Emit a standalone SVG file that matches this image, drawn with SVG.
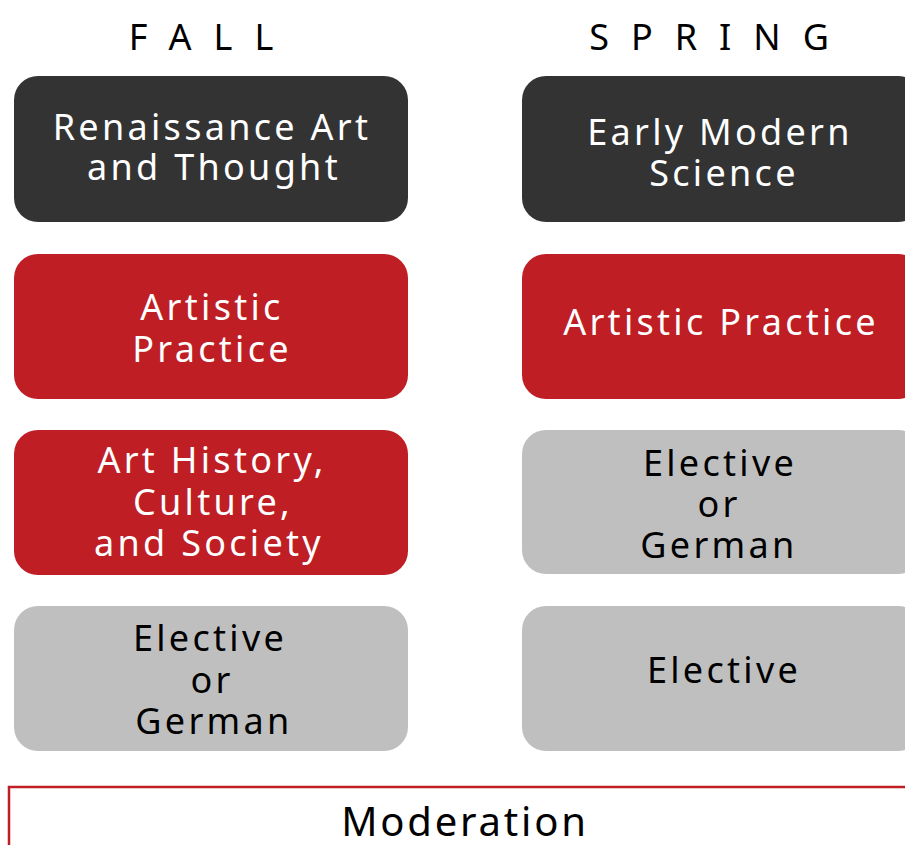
<svg xmlns="http://www.w3.org/2000/svg" width="905" height="845" viewBox="0 0 905 845">
<style>
text{font-family:"Noto Sans","Open Sans","Liberation Sans",sans-serif;font-size:36px;text-anchor:middle;letter-spacing:3.3px}
.w{fill:#ffffff}.k{fill:#000000}
.head{letter-spacing:22px;font-size:36px}
.dark{fill:#333333}.red{fill:#BE1E24}.gray{fill:#BFBFBF}
</style>
<rect width="905" height="845" fill="#ffffff"/>
<g id="headers">
<text class="k head" x="212" y="50">FALL</text>
<text class="k head" x="720" y="50">SPRING</text>
</g>
<g id="fall1"><rect class="dark" x="14" y="76" width="394" height="146" rx="24"/><text class="w" x="212" y="140">Renaissance Art</text><text class="w" x="214" y="180">and Thought</text></g>
<g id="spring1"><rect class="dark" x="522" y="76" width="400" height="146" rx="24"/><text class="w" x="720" y="145">Early Modern</text><text class="w" x="724" y="186">Science</text></g>
<g id="fall2"><rect class="red" x="14" y="254" width="394" height="145" rx="24"/><text class="w" x="212" y="320">Artistic</text><text class="w" x="212" y="362">Practice</text></g>
<g id="spring2"><rect class="red" x="522" y="254" width="400" height="145" rx="24"/><text class="w" x="721" y="335">Artistic Practice</text></g>
<g id="fall3"><rect class="red" x="14" y="430" width="394" height="145" rx="24"/><text class="w" x="212" y="473">Art History,</text><text class="w" x="213" y="515">Culture,</text><text class="w" x="209" y="556">and Society</text></g>
<g id="spring3"><rect class="gray" x="522" y="430" width="400" height="144" rx="24"/><text class="k" x="720" y="476">Elective</text><text class="k" x="719" y="517">or</text><text class="k" x="719" y="558">German</text></g>
<g id="fall4"><rect class="gray" x="14" y="606" width="394" height="145" rx="24"/><text class="k" x="210" y="651">Elective</text><text class="k" x="212" y="693">or</text><text class="k" x="214" y="734">German</text></g>
<g id="spring4"><rect class="gray" x="522" y="606" width="400" height="145" rx="24"/><text class="k" x="724" y="683">Elective</text></g>
<g id="moderation"><rect x="9" y="787" width="920" height="80" fill="none" stroke="#BE1E24" stroke-width="2.5"/><text class="k" x="465" y="836" style="font-size:40px;letter-spacing:2.8px">Moderation</text></g>
<g id="connectors"></g>
</svg>
